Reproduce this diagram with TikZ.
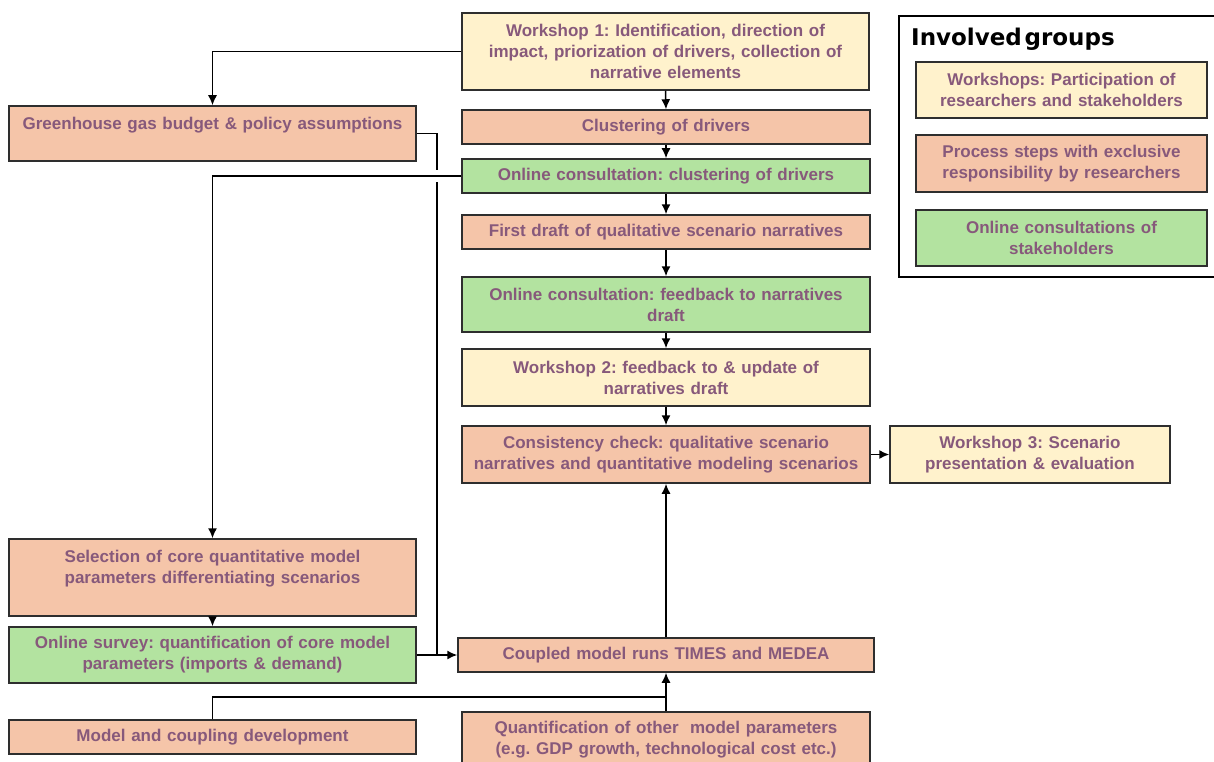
\documentclass[tikz,border=0pt]{standalone}
\usepackage{fontspec}
\setmainfont{Liberation Sans}
\newfontfamily\titlefont{DejaVu Sans}
\usetikzlibrary{arrows.meta}
\definecolor{ylw}{HTML}{FFF2CC}
\definecolor{org}{HTML}{F5C5A9}
\definecolor{grn}{HTML}{B3E3A0}
\definecolor{txt}{HTML}{87597B}
\definecolor{edge}{HTML}{2E2E2E}
\tikzset{
  box/.style={draw=edge, line width=1.5pt, inner sep=0pt, align=center,
    font=\fontsize{17}{21}\selectfont\bfseries\frenchspacing, text=txt},
  wbox/.style={box, fill=ylw},
  obox/.style={box, fill=org},
  gbox/.style={box, fill=grn},
  conn/.style={line width=1.5pt, draw=black},
  arr/.style={conn, -{Latex[length=10pt,width=9pt]}},
}
\begin{document}
\begin{tikzpicture}[x=1pt,y=-1pt]
\useasboundingbox (0,0) rectangle (1214,762);
\clip (0,0) rectangle (1214,762);
% middle column
\node[wbox, minimum width=407pt, minimum height=77pt, text width=395pt] (w1) at (665.5,51.5)
  {Workshop 1: Identification, direction of\\ impact, priorization of drivers, collection of\\ narrative elements};
\node[obox, minimum width=408pt, minimum height=34pt, text width=395pt] (cl) at (666,127) {Clustering of drivers};
\node[gbox, minimum width=408pt, minimum height=34pt, text width=395pt] (oc1) at (666,176) {Online consultation: clustering of drivers};
\node[obox, minimum width=408pt, minimum height=34pt, text width=395pt] (fd) at (666,232) {First draft of qualitative scenario narratives};
\node[gbox, minimum width=408pt, minimum height=55pt, text width=395pt] (oc2) at (666,304.5) {Online consultation: feedback to narratives\\ draft};
\node[wbox, minimum width=408pt, minimum height=57pt, text width=395pt] (w2) at (666,377.5) {Workshop 2: feedback to \& update of\\ narratives draft};
\node[obox, minimum width=408pt, minimum height=57pt, text width=400pt] (cc) at (666,454.5) {Consistency check: qualitative scenario\\ narratives and quantitative modeling scenarios};
\node[wbox, minimum width=280pt, minimum height=57pt, text width=270pt] (w3) at (1030,454.5) {Workshop 3: Scenario\\ presentation \& evaluation};
\node[obox, minimum width=416pt, minimum height=34pt, text width=400pt] (cm) at (666,655) {Coupled model runs TIMES and MEDEA};
\node[obox, minimum width=408pt, minimum height=56pt, text width=400pt] (q) at (666,740) {Quantification of other\ \ model parameters\\ (e.g. GDP growth, technological cost etc.)};
% left column
\node[obox, minimum width=407pt, minimum height=55pt, text width=395pt] (ghg) at (212.5,133.5) {Greenhouse gas budget \& policy assumptions\\ \mbox{}};
\node[obox, minimum width=407pt, minimum height=77pt, text width=395pt] (sel) at (212.5,577.5) {Selection of core quantitative model\\ parameters differentiating scenarios\\ \mbox{}};
\node[gbox, minimum width=407pt, minimum height=56pt, text width=395pt] (os) at (212.5,655) {Online survey: quantification of core model\\ parameters (imports \& demand)};
\node[obox, minimum width=407pt, minimum height=34pt, text width=395pt] (mc) at (212.5,737) {Model and coupling development};
% legend
\node[draw=black, line width=2.5pt, minimum width=330pt, minimum height=261pt, inner sep=0pt] (leg) at (1064,146.5) {};
\node[anchor=west, inner sep=0pt, font=\titlefont\bfseries\fontsize{23}{27}\selectfont] (legt) at (911,39) {Involved\hspace{0.12em}groups};
\node[wbox, minimum width=291pt, minimum height=56pt, text width=285pt] (l1) at (1061.5,90) {Workshops: Participation of\\ researchers and stakeholders};
\node[obox, minimum width=291pt, minimum height=57pt, text width=285pt] (l2) at (1061.5,163.5) {Process steps with exclusive\\ responsibility by researchers};
\node[gbox, minimum width=291pt, minimum height=56pt, text width=285pt] (l3) at (1061.5,238) {Online consultations of\\ stakeholders};
% coordinates
\coordinate (j) at (437,655);
\coordinate (k) at (666,697);
% connectors
\draw[arr] (w1.west) -| (ghg.north);
\draw[arr] (w1.south) -- (cl.north);
\draw[arr] (cl.south) -- (oc1.north);
\draw[arr] (oc1.south) -- (fd.north);
\draw[arr] (fd.south) -- (oc2.north);
\draw[arr] (oc2.south) -- (w2.north);
\draw[arr] (w2.south) -- (cc.north);
\draw[arr] (cc.east) -- (w3.west);
\draw[arr] (ghg.east) -| (j) -- (cm.west);
\draw[conn] (os.east) -- (j);
\draw[white, line width=12pt] (432,176) -- (442,176);
\draw[arr] (oc1.west) -| (sel.north);
\draw[arr] (sel.south) -- (os.north);
\draw[arr] (mc.north) |- (k) -- (cm.south);
\draw[conn] (q.north) -- (k);
\draw[arr] (cm.north) -- (cc.south);
\end{tikzpicture}
\end{document}
